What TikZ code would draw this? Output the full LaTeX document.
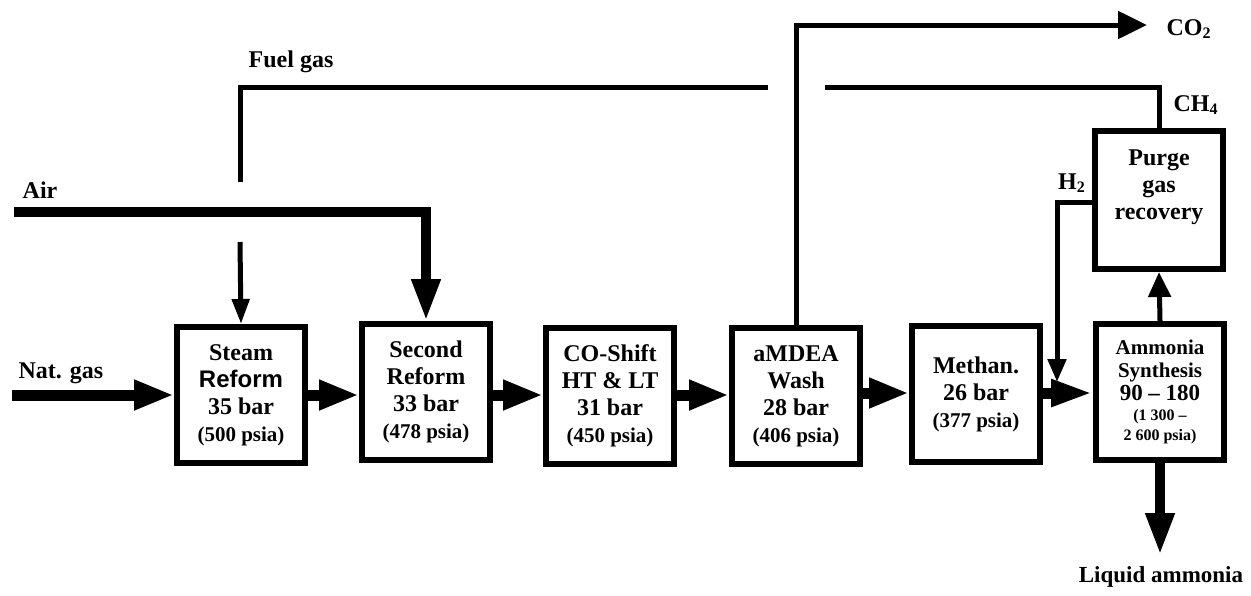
\documentclass[tikz,border=0pt]{standalone}
\usepackage{fontspec}
\setmainfont{Liberation Serif}
\newfontfamily\arialfont{Liberation Sans}
\usetikzlibrary{arrows.meta}
\tikzset{
  procbox/.style={draw, line width=3pt, minimum width=64pt, minimum height=68pt, inner sep=0pt, align=center, font=\bfseries\fontsize{12}{13.5}\selectfont},
  boxtext/.style={align=center, inner sep=0pt, font=\bfseries\fontsize{12}{13.5}\selectfont},
  lbl/.style={inner sep=0pt, font=\bfseries\fontsize{12}{14}\selectfont},
  mainflow/.style={line width=5.5pt, -{Triangle[length=20pt,width=14pt]}},
  airflow/.style={line width=5pt, line join=miter, -{Triangle[length=21pt,width=13.5pt]}},
  thinflow/.style={line width=2.5pt, line join=miter},
}
\newcommand{\psia}[1]{{\fontsize{10.5}{13.5}\selectfont #1}}
\begin{document}
\begin{tikzpicture}[x=0.5pt,y=-0.5pt]
\useasboundingbox (0,0) rectangle (1251,595);
% process units
\node[procbox] (steam) at (241,395) {Steam\\{\arialfont Reform}\\35 bar\\\psia{(500 psia)}};
\node[procbox] (second) at (426,392) {Second\\Reform\\33 bar\\\psia{(478 psia)}};
\node[procbox] (shift) at (610,396) {CO-Shift\\HT \& LT\\31 bar\\\psia{(450 psia)}};
\node[procbox] (amdea) at (796,396) {aMDEA\\Wash\\28 bar\\\psia{(406 psia)}};
\node[procbox] (methan) at (976,394) {Methan.\\26 bar\\\psia{(377 psia)}};
\node[procbox, font=\bfseries\fontsize{10.5}{11.5}\selectfont] (synth) at (1160,392) {Ammonia\\Synthesis\\{\fontsize{11.5}{11.5}\selectfont 90 – 180}\\[-1.5pt]{\fontsize{8}{11.5}\selectfont (1 300 –}\\[-1.5pt]{\fontsize{8}{11.5}\selectfont 2 600 psia)}};
\node[procbox, minimum height=69pt, label={[boxtext, yshift=6.5pt]center:Purge\\gas\\recovery}] (purge) at (1159,200) {};
% labels
\node[lbl] (fuel) at (291,62) {Fuel gas};
\node[lbl] (air) at (40,190) {Air};
\node[lbl] (natgas) at (61,373) {Nat. gas};
\node[lbl] (co2) at (1189,29) {CO\textsubscript{2}};
\node[lbl] (ch4) at (1196,105) {CH\textsubscript{4}};
\node[lbl] (h2) at (1072,183) {H\textsubscript{2}};
\node[lbl, font=\bfseries\fontsize{11.5}{14}\selectfont] (liquid) at (1161,577) {Liquid ammonia};
% free ends
\coordinate (natin) at (12,395);
\coordinate (airin) at (14,212);
\coordinate (fuelend) at (240,182);
\coordinate (fuelgapL) at (768,87);
\coordinate (fuelgapR) at (825,87);
\coordinate (burner) at (240,242);
\coordinate (co2out) at (1147,25);
\coordinate (nh3out) at (1160,555);
\coordinate (h2in) at (1057,382);
% main line
\draw[mainflow] (natin) -- (steam.west |- natin);
\draw[mainflow] (steam.east |- natin) -- (second.west |- natin);
\draw[mainflow] (second.east |- natin) -- (shift.west |- natin);
\draw[mainflow] (shift.east |- natin) -- (amdea.west |- natin);
\draw[mainflow] (amdea.east |- 0,393) -- (methan.west |- 0,393);
\draw[line width=5.5pt, -{Triangle[length=21pt,width=12.5pt]}] (methan.east |- 0,393) -- (synth.west |- 0,393);
\draw[airflow] (airin) -| (second.north);
\draw[thinflow, -{Triangle[length=12.5pt,width=8.5pt]}] (burner) -- (steam.north);
% fuel gas
\draw[thinflow] (fuelend) |- (fuelgapL);
\draw[thinflow] (purge.north) |- (fuelgapR);
% side streams
\draw[thinflow, -{Triangle[length=14.5pt,width=13.5pt]}] (amdea.north) |- (co2out);
\draw[thinflow, -{Triangle[length=12.5pt,width=11pt]}] (synth.north) -- (purge.south);
\draw[thinflow, -{Triangle[length=11.5pt,width=9pt]}] (purge.west |- 0,202) -| (h2in);
\draw[line width=5pt, -{Triangle[length=21pt,width=13.5pt]}] (synth.south) -- (nh3out);
\end{tikzpicture}
\end{document}
